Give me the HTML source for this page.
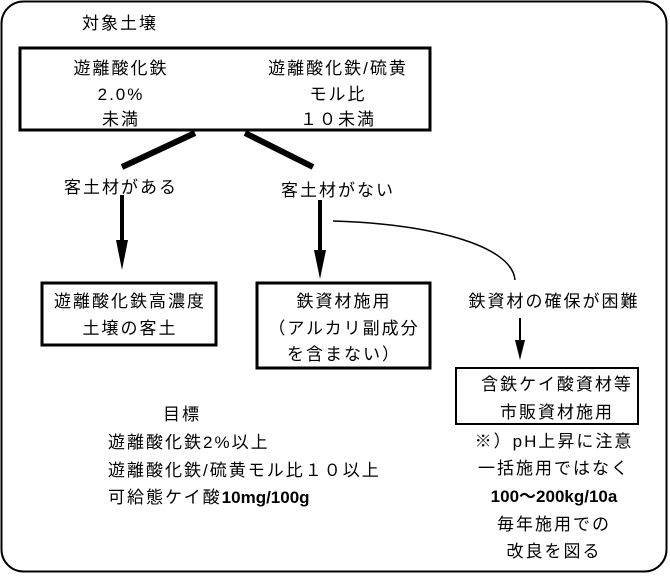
<!DOCTYPE html>
<html><head><meta charset="utf-8"><style>
body{margin:0;background:#fff}
svg text{font-family:"Liberation Sans","Noto Sans CJK JP",sans-serif;font-size:17px;letter-spacing:2px;fill:#000}
</style></head><body>
<svg width="670" height="575" xmlns="http://www.w3.org/2000/svg">
<rect x="1.5" y="1.5" width="665" height="570" rx="22" fill="none" stroke="#000" stroke-width="2"/>
<text x="82" y="29">対象土壌</text>
<rect x="20" y="48" width="410" height="82" fill="none" stroke="#000" stroke-width="3"/>
<text x="121" y="74" text-anchor="middle">遊離酸化鉄</text>
<text x="121" y="100" text-anchor="middle">2.0%</text>
<text x="121" y="125" text-anchor="middle">未満</text>
<text x="338" y="74" text-anchor="middle">遊離酸化鉄/硫黄</text>
<text x="338" y="100" text-anchor="middle">モル比</text>
<text x="338" y="125" text-anchor="middle">１０未満</text>
<line x1="195" y1="133" x2="122" y2="167" stroke="#000" stroke-width="6"/>
<line x1="245" y1="133" x2="313" y2="167" stroke="#000" stroke-width="6"/>
<text x="121" y="193" text-anchor="middle">客土材がある</text>
<text x="338" y="196" text-anchor="middle">客土材がない</text>
<line x1="122" y1="195" x2="122" y2="245" stroke="#000" stroke-width="4"/>
<polygon points="116,240 128,240 122,270" fill="#000"/>
<line x1="320" y1="200" x2="320" y2="255" stroke="#000" stroke-width="4"/>
<polygon points="314,250 326,250 320,279" fill="#000"/>
<path d="M333 221 C430 224 512 245 515 280" fill="none" stroke="#000" stroke-width="1.5"/>
<rect x="42" y="283" width="174" height="62" fill="none" stroke="#000" stroke-width="3"/>
<text x="130" y="307" text-anchor="middle">遊離酸化鉄高濃度</text>
<text x="130" y="334" text-anchor="middle">土壌の客土</text>
<rect x="257" y="283" width="173" height="85" fill="none" stroke="#000" stroke-width="3"/>
<text x="344" y="307" text-anchor="middle">鉄資材施用</text>
<text x="344" y="334" text-anchor="middle">（アルカリ副成分</text>
<text x="344" y="360" text-anchor="middle">を含まない）</text>
<text x="554" y="307" text-anchor="middle">鉄資材の確保が困難</text>
<line x1="520" y1="318" x2="520" y2="345" stroke="#000" stroke-width="2"/>
<polygon points="515,340 525,340 520,360" fill="#000"/>
<rect x="456" y="368" width="182" height="56" fill="none" stroke="#000" stroke-width="2"/>
<text x="557" y="390" text-anchor="middle">含鉄ケイ酸資材等</text>
<text x="557" y="418" text-anchor="middle">市販資材施用</text>
<text x="554" y="447" text-anchor="middle">※）pH上昇に注意</text>
<text x="554" y="474" text-anchor="middle">一括施用ではなく</text>
<text x="554" y="502" text-anchor="middle" font-weight="bold" style="letter-spacing:0">100〜200kg/10a</text>
<text x="554" y="530" text-anchor="middle">毎年施用での</text>
<text x="554" y="557" text-anchor="middle">改良を図る</text>
<text x="163" y="420">目標</text>
<text x="108" y="448">遊離酸化鉄2%以上</text>
<text x="108" y="476">遊離酸化鉄/硫黄モル比１０以上</text>
<text x="108" y="503">可給態ケイ酸<tspan font-weight="bold" style="letter-spacing:0">10mg/100g</tspan></text>
</svg>
</body></html>
